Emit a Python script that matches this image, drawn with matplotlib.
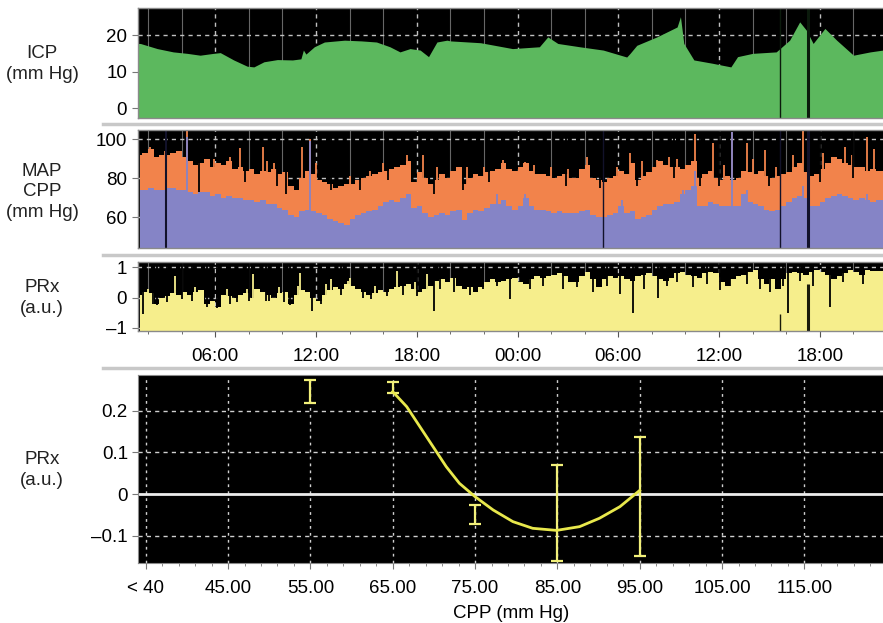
import numpy as np
import matplotlib.pyplot as plt
from matplotlib.lines import Line2D

plt.rcParams['font.family'] = ['Liberation Sans', 'DejaVu Sans']

# ---- time axis (hours since midnight of day 1) ----
t_start, t_end = 1.42, 45.76
time_ticks = [6, 12, 18, 24, 30, 36, 42]
time_labels = ['06:00', '12:00', '18:00', '00:00', '06:00', '12:00', '18:00']

# ICP (mm Hg) upper edge
icp_t = [1.42, 1.54, 2.55, 3.5, 4.33, 5.1, 5.9, 6.3, 7.1, 7.9, 8.3, 8.9, 9.7, 10.6,
         11.1, 11.25, 11.4, 11.9, 12.5, 13.7, 14.7, 15.6, 16.4, 17.0, 17.6, 18.2,
         18.7, 19.2, 19.8, 20.0, 21.8, 23.7, 25.3, 25.8, 26.4, 27.7, 29.1, 30.5,
         30.7, 31.1, 32.3, 33.5, 33.7, 33.9, 34.5, 35.6, 36.7, 37.1, 38.0, 39.4,
         40.2, 40.8, 41.2, 41.6, 42.3, 43.0, 44.0, 45.0, 45.76]
icp_v = [17.7, 17.7, 16.3, 15.4, 15.0, 14.5, 15.0, 15.2, 13.2, 11.5, 11.3, 12.7, 13.3, 13.2,
         13.5, 15.9, 14.8, 16.8, 18.1, 18.6, 18.4, 18.1, 16.8, 15.4, 16.3, 15.9,
         14.1, 18.1, 18.6, 18.4, 17.9, 16.3, 16.8, 19.5, 17.7, 16.8, 15.9, 14.0,
         15.0, 17.2, 19.5, 22.2, 25.0, 17.7, 13.2, 12.3, 11.3, 14.1, 15.0, 15.4,
         18.6, 23.6, 21.3, 17.7, 21.8, 18.6, 14.5, 15.4, 15.9]

# MAP, CPP and PRx read every 20 min from 01:30 on
dense_t0, dense_dt = 1.5, 1 / 3
map_v = [92, 93, 95, 91, 92, 92, 93, 94, 91, 89, 87, 88, 90, 86, 88, 87, 89, 85,
         86, 84, 85, 82, 84, 83, 85, 82, 83, 76, 74, 80, 84, 82, 79, 78, 77, 75,
         76, 77, 77, 79, 80, 81, 82, 83, 84, 85, 86, 87, 89, 78, 83, 80, 77, 79,
         82, 80, 84, 86, 77, 80, 82, 81, 83, 84, 85, 88, 85, 84, 86, 88, 84, 82,
         82, 81, 80, 81, 82, 80, 80, 85, 87, 80, 79, 78, 80, 81, 84, 82, 88, 79,
         81, 83, 86, 89, 87, 86, 86, 85, 87, 89, 80, 82, 84, 80, 79, 81, 79, 80,
         84, 83, 82, 84, 81, 80, 81, 82, 83, 86, 88, 83, 81, 82, 85, 88, 91, 90,
         88, 87, 86, 86, 84, 85, 84, 84]
cpp_v = [74, 74, 75, 74, 74, 75, 75, 74, 74, 73, 72, 73, 73, 71, 72, 70, 71, 70,
         70, 69, 69, 68, 69, 67, 67, 65, 64, 61, 60, 63, 64, 63, 62, 61, 59, 58,
         57, 56, 59, 61, 62, 63, 64, 66, 68, 69, 68, 70, 72, 65, 66, 62, 60, 61,
         62, 61, 63, 64, 58.6, 62, 64, 63, 65, 67, 67, 69, 66, 64, 66, 70, 66, 64,
         64, 63, 62, 63, 62, 62, 62, 63, 64, 61, 60, 60, 61, 62, 66, 62, 63, 59,
         60, 61, 64, 66, 67, 67, 68, 72, 74, 76, 66, 66, 68, 67, 66, 66, 66, 66,
         72, 68, 67, 66, 64, 63, 64, 66, 68, 70, 71, 70, 66, 66, 68, 70, 71, 72,
         71, 70, 69, 70, 69, 68, 69, 69]
prx_v = [0.1, 0.2, 0.15, -0.2, 0.0, 0.05, 0.15, 0.1, 0.2, 0.1, 0.2, 0.25,
         -0.2, -0.1, -0.3, 0.1, 0.05, 0.0, 0.1, 0.15, 0.0, 0.3, 0.2, 0.1,
         0.0, 0.15, 0.2, -0.2, 0.1, 0.25, 0.2, 0.0, -0.1, 0.1, 0.25, 0.35,
         0.3, 0.45, 0.4, 0.3, 0.2, 0.1, 0.15, 0.25, 0.2, 0.3, 0.35, 0.4,
         0.45, 0.3, 0.2, 0.3, 0.4, 0.55, 0.6, 0.5, 0.65, 0.4, 0.3, 0.35,
         0.2, 0.35, 0.5, 0.6, 0.5, 0.55, 0.6, 0.65, 0.5, 0.45, 0.6, 0.7,
         0.65, 0.7, 0.75, 0.8, 0.7, 0.5, 0.5, 0.7, 0.85, 0.6, 0.35, 0.6,
         0.7, 0.65, 0.7, 0.6, 0.55, 0.7, 0.75, 0.8, 0.7, 0.6, 0.55, 0.65,
         0.8, 0.85, 0.75, 0.7, 0.65, 0.8, 0.85, 0.8, 0.5, 0.4, 0.6, 0.7,
         0.75, 0.85, 0.9, 0.6, 0.45, 0.6, 0.3, 0.6, 0.8, 0.85, 0.8, 0.75,
         0.85, 0.9, 0.85, 0.75, 0.6, 0.7, 0.8, 0.9, 0.85, 0.75, 0.9, 0.88,
         0.88, 0.88]

# narrow excursions of MAP and CPP
map_spike_t = [2.13, 3.0, 4.33, 5.9, 6.9, 7.5, 8.86, 9.1, 9.5, 11.18, 11.65, 12.0, 14.0,
               15.2, 16.0, 17.4, 18.38, 19.2, 20.4, 21.0, 22.0, 23.15, 24.45, 25.0,
               26.0, 27.0, 28.14, 29.9, 30.7, 31.4, 32.3, 33.0, 33.5, 34.57, 35.64,
               36.3, 36.77, 37.67, 38.0, 38.74, 39.4, 40.4, 41.0, 42.2, 43.5, 43.9,
               44.8, 45.2]
map_spike_v = [96, 94, 105, 90, 91, 95.4, 96, 89, 88, 96, 100, 88, 81,
               84, 88, 92, 92, 86, 86, 86, 86, 89.4, 88.5, 87,
               86, 85, 91, 86, 92.8, 89, 89.4, 91, 90, 103, 98,
               87, 104, 98, 90, 94.5, 86, 92, 104.8, 93, 96, 92,
               101.4, 95]
map_dip_t = [5.05, 7.8, 9.7, 10.2, 12.9, 14.6, 16.3, 19.0, 20.77, 22.3, 26.9, 28.9,
             31.1, 33.3, 34.87, 36.0, 39.0, 42.0, 44.0]
map_dip_v = [68, 78, 76, 72, 74, 74, 79, 72, 74, 78, 76, 75,
             76, 80, 76, 76, 76, 78, 80]
cpp_spike_t = [4.33, 11.65, 22.8, 24.45, 30.2, 33.86, 34.57, 36.77, 37.67, 41.0, 44.8]
cpp_spike_v = [101, 99, 72, 72, 69, 74, 84, 104, 74, 76, 72]

# narrow excursions of PRx
prx_dip_t = [1.7, 2.3, 2.55, 3.1, 4.0, 4.6, 5.5, 6.1, 6.9, 7.3, 8.0, 9.0, 9.2, 10.1,
             10.46, 11.77, 12.3, 13.5, 14.8, 15.3, 16.2, 17.2, 18.0, 19.0,
             19.39, 20.19, 21.18, 21.97, 22.77, 23.56, 24.75, 25.54, 26.73, 27.53,
             28.52, 29.32, 30.11, 30.9, 31.5, 32.39, 32.88, 33.48, 34.47, 35.27,
             36.06, 36.65, 37.65, 38.44, 39.04, 39.83, 40.13, 40.82, 41.62, 42.61,
             43.4, 44.59]
prx_dip_v = [-0.55, -0.2, -0.25, -0.15, -0.05, -0.1, -0.3, -0.35, -0.2, -0.15, -0.1, -0.1, -0.1, -0.15,
             -0.25, -0.44, -0.2, 0.1, 0.0, -0.05, 0.05, 0.1, 0.05, -0.44,
             0.3, 0.2, 0.1, 0.3, 0.4, -0.05, 0.3, 0.4, 0.3, 0.35,
             0.2, 0.4, 0.11, -0.5, 0.3, 0.0, 0.4, 0.5, 0.35, 0.45,
             0.25, 0.4, 0.45, 0.3, 0.2, 0.4, -0.5, 0.55, 0.4, -0.33,
             0.5, 0.45]
prx_spike_t = [2.0, 3.6, 4.8, 6.7, 7.9, 8.26, 9.8, 10.9, 11.06, 12.6, 12.9, 13.9, 14.0,
               15.5, 16.8, 17.9, 18.6]
prx_spike_v = [0.3, 0.72, 0.35, 0.3, 0.3, 0.77, 0.35, 0.4, 0.83, 0.45, 0.6, 0.55, 0.65,
               0.4, 0.88, 0.5, 0.77]

# recording gaps (dark vertical lines)
gap_t = [3.08, 29.1, 39.63, 41.3]
gap_w = [1.5, 1.0, 1.0, 2.2]
prx_gap_t = [39.63, 41.3]
prx_gap_top = [-0.55, 0.44]

# ---- PRx versus CPP ----
cpp_ticks = [35, 45, 55, 65, 75, 85, 95, 105, 115]
cpp_labels = ['< 40', '45.00', '55.00', '65.00', '75.00', '85.00', '95.00', '105.00', '115.00']
bin_cpp = [55, 65, 75, 85, 95]
bin_lo = [0.219, 0.242, -0.071, -0.160, -0.148]
bin_hi = [0.275, 0.268, -0.026, 0.070, 0.138]
fit_cpp = [65.0, 66.7, 68.3, 69.9, 71.5, 73.1, 75.0, 77.2, 79.6, 82.0, 84.9, 87.7, 90.1, 92.6, 95.0]
fit_prx = [0.246, 0.21, 0.162, 0.114, 0.066, 0.026, -0.006, -0.038, -0.066, -0.082, -0.087,
           -0.078, -0.058, -0.030, 0.009]

GREEN = '#5cb85e'
ORANGE = '#f2834b'
PURPLE = '#8584c6'
YELLOW = '#f6ee8c'
CURVE = '#e8e84c'
FS = 13.5

dense_t = dense_t0 + dense_dt * np.arange(len(map_v))

W, H = 883, 623
fig = plt.figure(figsize=(W / 100, H / 100), dpi=100)


def px_axes(left, top, right, bottom):
    return fig.add_axes([left / W, 1 - bottom / H, (right - left) / W, (bottom - top) / H])


def style_time(ax, ylim, yticks, ylabels, show_x=False):
    ax.set_facecolor('black')
    ax.set_xlim(t_start, t_end)
    ax.set_ylim(*ylim)
    ax.set_yticks(yticks)
    ax.set_yticklabels(ylabels)
    for h in np.arange(2, 46, 2):
        if h % 6 == 0:
            ax.axvline(h, color='#c0c0c0', lw=1.0, ls=(0, (3, 3)), zorder=0.5)
        else:
            ax.axvline(h, color='#666666', lw=0.8, zorder=0.5)
    for y in yticks:
        ax.axhline(y, color='#c0c0c0', lw=1.0, ls=(0, (3, 3)), zorder=0.5)
    ax.tick_params(axis='y', direction='out', length=4, color='#777777', labelsize=FS, pad=4)
    ax.set_xticks(time_ticks)
    if show_x:
        ax.set_xticklabels(time_labels)
        ax.set_xticks(np.arange(2, 46, 2), minor=True)
        ax.tick_params(axis='x', direction='out', length=4, color='#555555', labelsize=FS, pad=8)
        ax.tick_params(axis='x', which='minor', length=2, color='#555555')
    else:
        ax.tick_params(axis='x', length=0, labelbottom=False)
    for s in ax.spines.values():
        s.set_color('#8a8a8a')
        s.set_linewidth(1.0)
    ax.spines['right'].set_visible(False)


# ICP panel
ax1 = px_axes(138.3, 8.3, 883, 118.3)
style_time(ax1, (-2.73, 27.3), [0, 10, 20], ['0', '10', '20'])
ax1.fill_between(icp_t, -5, icp_v, color=GREEN, lw=0, zorder=1)
ax1.vlines(gap_t[2:], -5, 30, color='#0b1a0c', lw=gap_w[2:], zorder=2)

# MAP / CPP panel
ax2 = px_axes(138.3, 130, 883, 248.3)
style_time(ax2, (44.1, 104.8), [60, 80, 100], ['60', '80', '100'])
ax2.fill_between(dense_t, 40, map_v, step='mid', color=ORANGE, lw=0, zorder=1)
ax2.vlines(map_spike_t, 40, map_spike_v, color=ORANGE, lw=1.3, zorder=1.1)
ax2.vlines(map_dip_t, map_dip_v, 110, color='black', lw=1.3, zorder=1.2)
ax2.fill_between(dense_t, 40, cpp_v, step='mid', color=PURPLE, lw=0, zorder=1.3)
ax2.vlines(cpp_spike_t, 40, cpp_spike_v, color=PURPLE, lw=1.3, zorder=1.4)
ax2.vlines(gap_t, 40, 110, color='#12122a', lw=gap_w, zorder=2)

# PRx panel
ax3 = px_axes(138.3, 261.7, 883, 331)
style_time(ax3, (-1.11, 1.19), [-1, 0, 1], ['\u20131', '0', '1'], show_x=True)
ax3.fill_between(dense_t, -1.5, prx_v, step='mid', color=YELLOW, lw=0, zorder=1)
ax3.vlines(prx_spike_t, -1.5, prx_spike_v, color=YELLOW, lw=1.3, zorder=1.1)
ax3.vlines(prx_dip_t, prx_dip_v, 1.5, color='black', lw=1.3, zorder=1.2)
ax3.vlines(prx_gap_t, -1.5, prx_gap_top, color='#1a1a0a', lw=gap_w[2:], zorder=2)

# PRx vs CPP panel
ax4 = px_axes(138.3, 375, 883, 563.3)
ax4.set_facecolor('black')
ax4.set_xlim(34.1, 124.55)
ax4.set_ylim(-0.166, 0.286)
ax4.set_xticks(cpp_ticks)
ax4.set_xticklabels(cpp_labels)
ax4.set_xticks(np.arange(35, 125, 2), minor=True)
ax4.set_yticks([-0.1, 0, 0.1, 0.2])
ax4.set_yticklabels(['\u20130.1', '0', '0.1', '0.2'])
for x in cpp_ticks:
    ax4.axvline(x, color='#d0d0d0', lw=1.0, ls=(0, (2, 3)), zorder=0.5)
for y in [-0.1, 0.1, 0.2]:
    ax4.axhline(y, color='#d0d0d0', lw=1.0, ls=(0, (3, 3)), zorder=0.5)
ax4.axhline(0, color='#ececec', lw=2.0, zorder=0.6)
mid = [(lo + hi) / 2 for lo, hi in zip(bin_lo, bin_hi)]
half = [(hi - lo) / 2 for lo, hi in zip(bin_lo, bin_hi)]
ax4.errorbar(bin_cpp, mid, yerr=half, fmt='none', ecolor='#f2f07a', elinewidth=1.6,
             capsize=4.5, capthick=1.6, zorder=2)
ax4.plot(fit_cpp, fit_prx, color=CURVE, lw=2.0, zorder=3, solid_joinstyle='round')
ax4.tick_params(axis='both', direction='out', length=4, color='#777777', labelsize=FS)
ax4.tick_params(axis='x', pad=8)
ax4.tick_params(axis='x', which='minor', length=2, color='#777777')
for s in ax4.spines.values():
    s.set_color('#8a8a8a')
ax4.spines['right'].set_visible(False)
ax4.set_xlabel('CPP (mm Hg)', fontsize=FS, labelpad=6)

# panel labels
for ycen, txt in [(64, 'ICP\n(mm Hg)'), (192, 'MAP\nCPP\n(mm Hg)'),
                  (298, 'PRx\n(a.u.)'), (470, 'PRx\n(a.u.)')]:
    fig.text(42 / W, 1 - ycen / H, txt, ha='center', va='center', fontsize=FS,
             linespacing=1.25, color='#222222')

# light separators between panels
for ysep in [123.5, 255, 368]:
    fig.add_artist(Line2D([103 / W, 1], [1 - ysep / H] * 2, color='#c8c8c8', lw=2.5))

fig.savefig('out.png', dpi=100, facecolor='white')
